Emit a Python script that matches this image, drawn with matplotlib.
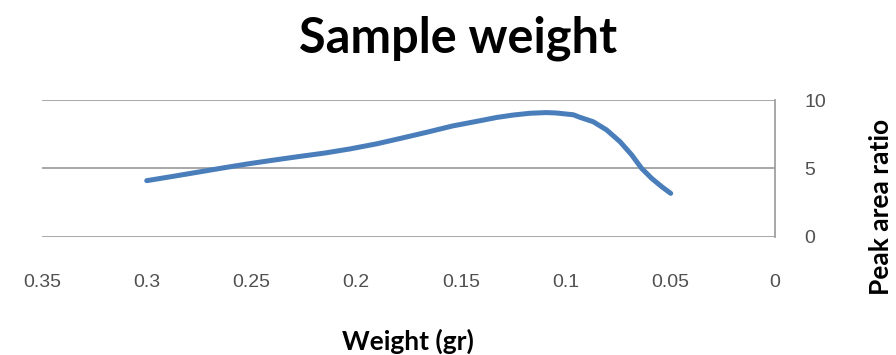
import matplotlib
matplotlib.use("Agg")
import matplotlib.pyplot as plt
import numpy as np

# Values (weight in gr, peak area ratio)
weights = [0.300, 0.288, 0.276, 0.264, 0.252, 0.240, 0.228, 0.215, 0.203,
           0.190, 0.178, 0.166, 0.154, 0.141, 0.133, 0.125, 0.117, 0.109,
           0.1045, 0.0963, 0.0931, 0.0868, 0.0804, 0.0740, 0.0684, 0.0637,
           0.0589, 0.0541, 0.0498]
ratios = [4.10, 4.40, 4.71, 5.02, 5.32, 5.59, 5.85, 6.12, 6.42,
          6.80, 7.22, 7.65, 8.10, 8.48, 8.72, 8.90, 9.03, 9.08,
          9.05, 8.92, 8.73, 8.41, 7.81, 6.95, 5.98, 5.00,
          4.27, 3.66, 3.17]

x_ticks = [0.35, 0.3, 0.25, 0.2, 0.15, 0.1, 0.05, 0]
x_tick_labels = ['0.35', '0.3', '0.25', '0.2', '0.15', '0.1', '0.05', '0']
y_ticks = [0, 5, 10]

fig = plt.figure(figsize=(8.96, 3.55), dpi=100)
ax = fig.add_axes([42 / 896, 1 - 236.7 / 355, (775 - 42) / 896, 136.7 / 355])

ax.plot(weights, ratios, color='#4a7ebb', linewidth=3.6,
        solid_joinstyle='round', solid_capstyle='round')

ax.set_xlim(0.35, 0)
ax.set_ylim(0, 10)

# eje y a la derecha, sin marcas
ax.yaxis.tick_right()
ax.set_yticks(y_ticks)
ax.set_xticks(x_ticks)
ax.set_xticklabels(x_tick_labels)
ax.tick_params(axis='both', length=0, labelsize=14, labelcolor='#505050')
ax.tick_params(axis='x', pad=27)
ax.tick_params(axis='y', pad=21)
for lbl in ax.get_xticklabels() + ax.get_yticklabels():
    lbl.set_fontfamily('Liberation Sans')

ax.grid(axis='y', color='#a0a0a0', linewidth=1.3)
ax.set_axisbelow(True)
for side in ['top', 'left', 'bottom']:
    ax.spines[side].set_visible(False)
ax.spines['right'].set_color('#a0a0a0')
ax.spines['right'].set_linewidth(1.3)

fig.text(458 / 896, 1 - 38 / 355, 'Sample weight', ha='center', va='center',
         fontsize=35, fontweight='bold', family='Lato')
fig.text(408 / 896, 1 - 341 / 355, 'Weight (gr)', ha='center', va='center',
         fontsize=19, fontweight='bold', family='Lato')
fig.text(881 / 896, 1 - 207 / 355, 'Peak area ratio', ha='center', va='center',
         rotation=90, fontsize=19, fontweight='bold', family='Lato')

fig.savefig('out.png', dpi=100)
